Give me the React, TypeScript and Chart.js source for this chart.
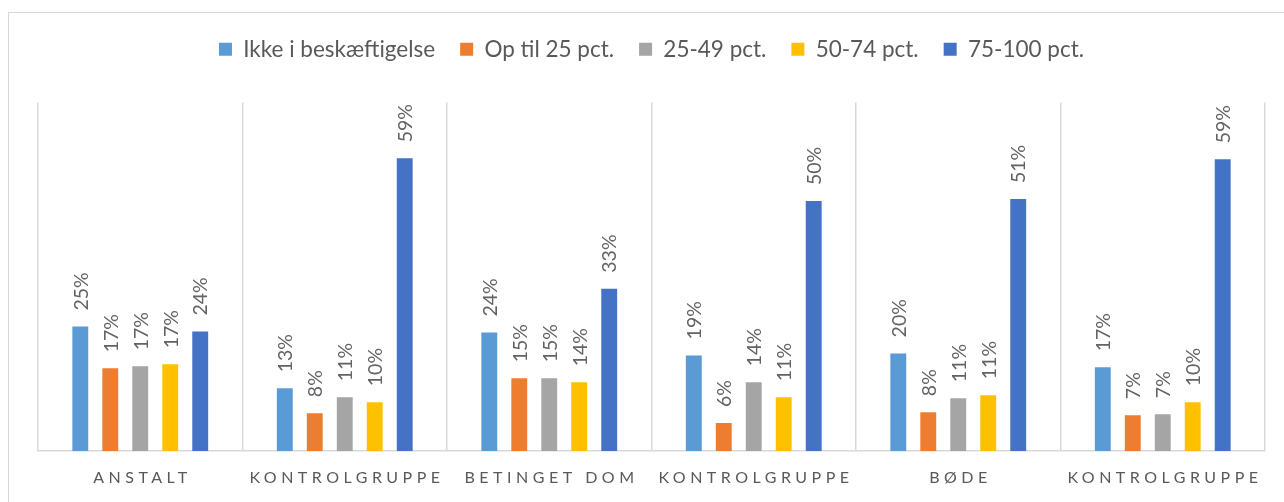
import React, { useEffect, useRef } from "react";
import { Chart, registerables } from "chart.js";

Chart.register(...registerables);

const categories = ["ANSTALT", "KONTROLGRUPPE", "BETINGET DOM", "KONTROLGRUPPE", "BØDE", "KONTROLGRUPPE"];
const seriesNames = ["Ikke i beskæftigelse", "Op til 25 pct.", "25-49 pct.", "50-74 pct.", "75-100 pct."];
const seriesColors = ["#5B9BD5", "#ED7D31", "#A5A5A5", "#FFC000", "#4472C4"];
const ikkeIBeskaeftigelse = [25.0, 12.6, 23.8, 19.2, 19.6, 16.8];
const opTil25 = [16.6, 7.6, 14.6, 5.6, 7.8, 7.2];
const pct25til49 = [17.0, 10.8, 14.6, 13.8, 10.6, 7.4];
const pct50til74 = [17.4, 9.8, 13.8, 10.8, 11.2, 9.8];
const pct75til100 = [24.0, 58.8, 32.6, 50.2, 50.6, 58.6];
const seriesValues = [ikkeIBeskaeftigelse, opTil25, pct25til49, pct50til74, pct75til100];

const FONT = "Lato";
const TEXT = "#595959";
const LABEL = "#636363";
const GRID = "#d9d9d9";

export default function App() {
  const ref = useRef<HTMLCanvasElement | null>(null);
  useEffect(() => {
    if (!ref.current) return;
    const legendMargin = {
      id: "legendMargin",
      beforeInit(chart: any) {
        const legend = chart.legend;
        if (!legend) return;
        const orig = legend.fit;
        legend.fit = function () {
          orig.bind(this)();
          this.height += 32;
        };
      },
    };
    const labelsPlugin = {
      id: "customLabels",
      afterDatasetsDraw(chart: any) {
        const ctx = chart.ctx;
        ctx.save();
        ctx.fillStyle = LABEL;
        ctx.font = `19.5px ${FONT}`;
        ctx.textAlign = "left";
        ctx.textBaseline = "middle";
        chart.data.datasets.forEach((ds: any, di: number) => {
          const meta = chart.getDatasetMeta(di);
          meta.data.forEach((el: any, i: number) => {
            const v = ds.data[i];
            ctx.save();
            ctx.translate(el.x + 1, el.y - 16);
            ctx.rotate(-Math.PI / 2);
            ctx.fillText(Math.round(v) + "%", 0, 0);
            ctx.restore();
          });
        });
        ctx.restore();
      },
      afterDraw(chart: any) {
        const ctx = chart.ctx;
        const xs = chart.scales.x;
        const sp = 4.5;
        ctx.save();
        ctx.fillStyle = TEXT;
        ctx.font = `16px ${FONT}`;
        (ctx as any).letterSpacing = sp + "px";
        ctx.textAlign = "center";
        ctx.textBaseline = "middle";
        categories.forEach((c, i) => {
          ctx.fillText(c, xs.getPixelForValue(i) + sp / 2, chart.chartArea.bottom + 27);
        });
        ctx.restore();
      },
    };
    const chart = new Chart(ref.current, {
      type: "bar",
      data: {
        labels: categories,
        datasets: seriesNames.map((n, i) => ({
          label: n,
          data: seriesValues[i],
          backgroundColor: seriesColors[i],
          borderWidth: 0,
          categoryPercentage: 0.733,
          barPercentage: 0.53,
        })),
      },
      options: {
        responsive: false,
        animation: false,
        layout: { padding: { left: 29, right: 19, top: 0, bottom: 51 } },
        plugins: {
          legend: {
            position: "top",
            labels: {
              boxWidth: 13,
              boxHeight: 13,
              padding: 25,
              color: TEXT,
              font: { family: FONT, size: 22.5 },
            },
          },
          tooltip: { enabled: false },
        },
        scales: {
          x: {
            offset: true,
            grid: { offset: true, color: GRID, lineWidth: 1.5, drawTicks: false },
            border: { color: GRID, width: 1.5 },
            ticks: { display: false },
          },
          y: {
            display: false,
            min: 0,
            max: 70,
          },
        },
      },
      plugins: [legendMargin, labelsPlugin],
    });
    return () => chart.destroy();
  }, []);
  return (
    <div
      style={{
        position: "absolute",
        left: 8,
        top: 12,
        width: 1276,
        height: 490,
        borderLeft: "1px solid #d9d9d9",
        borderTop: "1px solid #d9d9d9",
        background: "#fff",
      }}
    >
      <canvas ref={ref} width={1275} height={489} style={{ display: "block" }} />
    </div>
  );
}
